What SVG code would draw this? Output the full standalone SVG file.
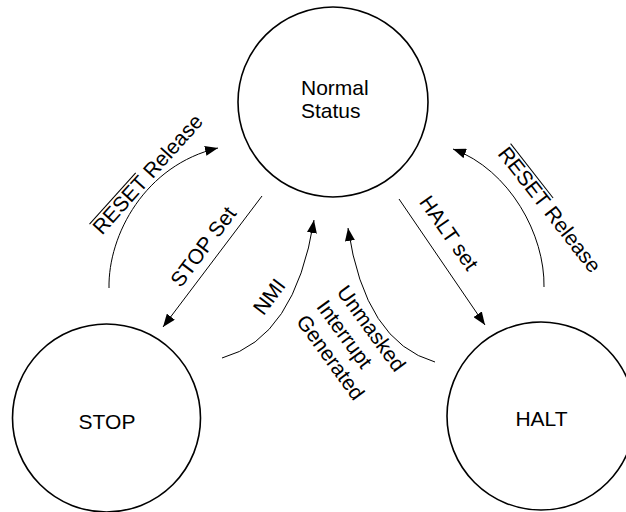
<svg xmlns="http://www.w3.org/2000/svg" width="626" height="512" viewBox="0 0 626 512">
<style>
.node{fill:#fff;stroke:#000;stroke-width:1.6}
.t{font-family:"Liberation Sans",Arial,sans-serif;font-size:21px;fill:#000}
.c{fill:none;stroke:#000;stroke-width:1}
.ov{stroke:#000;stroke-width:1}
</style>
<defs>
<marker id="ah" markerUnits="userSpaceOnUse" markerWidth="14" markerHeight="10" viewBox="0 0 14 10" refX="13" refY="5" orient="auto">
<path d="M0,0 L13,5 L0,10 Z" fill="#000"/>
</marker>
</defs>
<rect width="626" height="512" fill="#fff"/>
<g id="normal">
<circle class="node" cx="333" cy="102" r="95"/>
<text class="t" x="301" y="95">Normal</text>
<text class="t" x="301" y="118">Status</text>
</g>
<g id="stop">
<circle class="node" cx="106.5" cy="418" r="94"/>
<text class="t" x="107" y="429" text-anchor="middle">STOP</text>
</g>
<g id="halt">
<circle class="node" cx="541" cy="416" r="94"/>
<text class="t" x="541.5" y="426" text-anchor="middle">HALT</text>
</g>
<g id="connectors">
<path class="c" d="M109,288 C108,235 145,165 218,148" marker-end="url(#ah)"/>
<path class="c" d="M262,196 L163,327" marker-end="url(#ah)"/>
<path class="c" d="M222,358 Q295,338 314,220" marker-end="url(#ah)"/>
<path class="c" d="M435,362 Q365,342 348,228" marker-end="url(#ah)"/>
<path class="c" d="M399,199 L485,325" marker-end="url(#ah)"/>
<path class="c" d="M544,287 C545,235 510,170 453,149" marker-end="url(#ah)"/>
</g>
<g id="labels">
<g transform="translate(153,179) rotate(-48)">
<text class="t" x="0" y="0" text-anchor="middle">RESET Release</text>
<line class="ov" x1="-76" y1="-17" x2="-7" y2="-17"/>
</g>
<g transform="translate(209,251) rotate(-53)">
<text class="t" x="0" y="0" text-anchor="middle">STOP Set</text>
</g>
<g transform="translate(275,301) rotate(-53)">
<text class="t" x="0" y="0" text-anchor="middle">NMI</text>
</g>
<g transform="translate(336,292) rotate(54)">
<text class="t" x="0" y="0">Unmasked</text>
<text class="t" x="0" y="25">Interrupt</text>
<text class="t" x="0" y="50">Generated</text>
</g>
<g transform="translate(443,237) rotate(55)">
<text class="t" x="0" y="0" text-anchor="middle">HALT set</text>
</g>
<g transform="translate(544,214) rotate(52)">
<text class="t" x="0" y="0" text-anchor="middle">RESET Release</text>
<line class="ov" x1="-76" y1="-17" x2="-7" y2="-17"/>
</g>
</g>
</svg>
